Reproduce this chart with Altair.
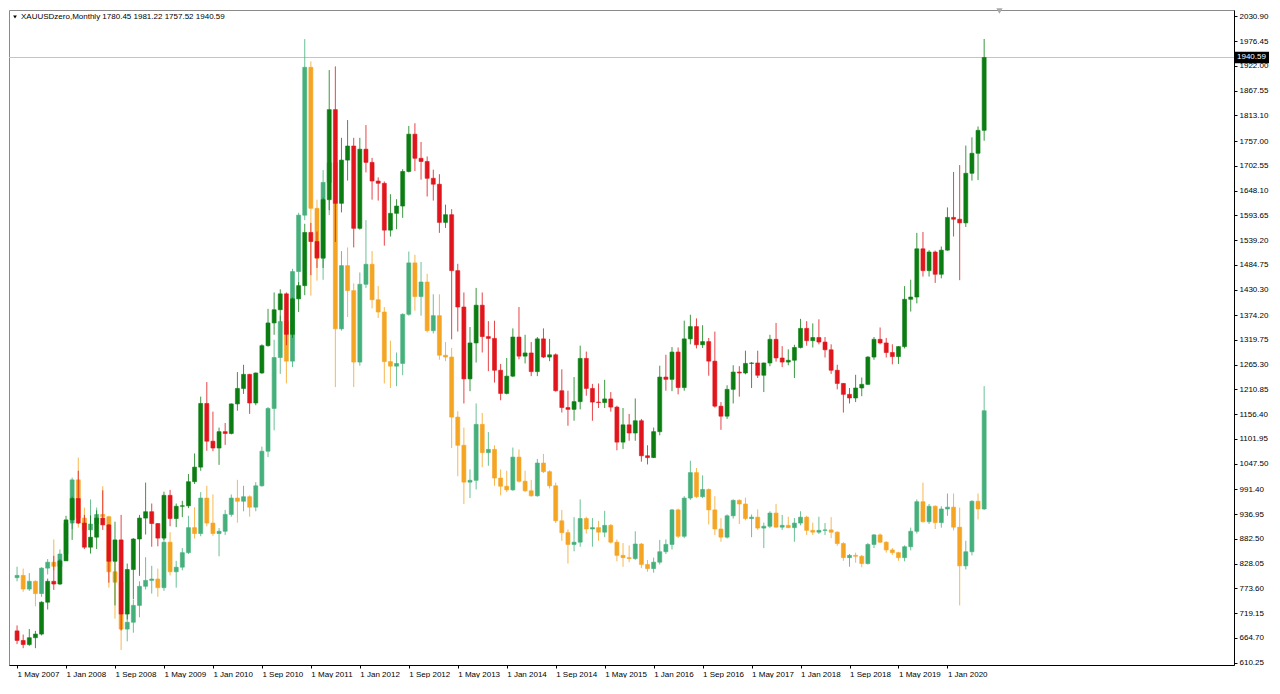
import json
import altair as alt
import pandas as pd

# ---------------- data (price-axis units) ----------------
# monthly candles, first candle = May 2007 (index 0), last = Jul 2020 (index 158)
gold_open = [
    680, 659, 650, 665, 673, 743, 789, 783,
    834, 924, 971, 917, 864, 886, 928, 913, 833, 880, 717, 815,
    882, 928, 942, 916, 884, 978, 927, 954, 955, 1008, 1040, 1180,
    1097, 1082, 1118, 1114, 1179, 1213, 1244, 1181, 1247, 1307, 1357, 1386,
    1421, 1332, 1410, 1439, 1556, 1536, 1500, 1628, 1826, 1620, 1715, 1746,
    1565, 1739, 1710, 1669, 1664, 1561, 1598, 1614, 1690, 1772, 1719, 1712,
    1675, 1662, 1578, 1595, 1472, 1392, 1234, 1313, 1396, 1327, 1323, 1253,
    1202, 1240, 1326, 1284, 1291, 1250, 1322, 1282, 1287, 1208, 1171, 1167,
    1184, 1279, 1213, 1183, 1182, 1190, 1172, 1095, 1133, 1115, 1142, 1065,
    1061, 1118, 1238, 1233, 1293, 1215, 1322, 1349, 1309, 1316, 1273, 1174,
    1152, 1211, 1249, 1247, 1268, 1269, 1242, 1269, 1321, 1280, 1271, 1275,
    1303, 1345, 1318, 1325, 1315, 1298, 1253, 1224, 1200, 1192, 1214, 1222,
    1282, 1321, 1313, 1292, 1283, 1305, 1409, 1414, 1520, 1472, 1513, 1464,
    1517, 1589, 1585, 1577, 1686, 1730, 1780.45,
]
gold_high = [
    692, 672, 684, 680, 745, 795, 845, 838,
    933, 975, 1032, 935, 934, 945, 989, 915, 920, 935, 828, 884,
    935, 1006, 960, 917, 986, 990, 960, 966, 1025, 1070, 1195, 1227,
    1162, 1127, 1137, 1180, 1249, 1265, 1245, 1248, 1310, 1388, 1424, 1431,
    1424, 1413, 1447, 1575, 1577, 1558, 1632, 1913, 1921, 1764, 1803, 1764,
    1764, 1792, 1720, 1677, 1668, 1640, 1629, 1695, 1790, 1796, 1755, 1723,
    1694, 1684, 1617, 1607, 1487, 1424, 1348, 1434, 1424, 1361, 1362, 1267,
    1280, 1345, 1392, 1331, 1315, 1326, 1345, 1322, 1290, 1255, 1208, 1238,
    1307, 1294, 1223, 1224, 1232, 1205, 1175, 1170, 1157, 1191, 1146, 1088,
    1127, 1263, 1287, 1304, 1303, 1362, 1375, 1367, 1352, 1324, 1338, 1183,
    1220, 1264, 1262, 1296, 1271, 1296, 1270, 1331, 1357, 1306, 1299, 1309,
    1366, 1361, 1356, 1365, 1326, 1310, 1265, 1225, 1214, 1243, 1237, 1284,
    1326, 1347, 1324, 1310, 1306, 1438, 1452, 1555, 1557, 1517, 1516, 1525,
    1611, 1689, 1704, 1747, 1765, 1789, 1981.22,
]
gold_low = [
    651, 642, 647, 642, 670, 727, 770, 781,
    834, 880, 915, 860, 850, 860, 902, 786, 736, 681, 705, 750,
    801, 892, 865, 866, 880, 910, 908, 930, 950, 1003, 1032, 1076,
    1075, 1045, 1089, 1112, 1164, 1201, 1157, 1176, 1245, 1305, 1331, 1360,
    1308, 1324, 1381, 1418, 1462, 1478, 1478, 1605, 1535, 1600, 1670, 1523,
    1562, 1688, 1628, 1626, 1527, 1547, 1563, 1588, 1688, 1691, 1672, 1635,
    1626, 1555, 1566, 1321, 1338, 1180, 1207, 1270, 1292, 1251, 1226, 1187,
    1200, 1238, 1277, 1268, 1240, 1240, 1280, 1273, 1206, 1160, 1131, 1142,
    1167, 1197, 1142, 1170, 1170, 1162, 1077, 1080, 1098, 1098, 1052, 1046,
    1060, 1110, 1208, 1207, 1200, 1208, 1310, 1301, 1302, 1241, 1171, 1122,
    1146, 1180, 1195, 1244, 1214, 1236, 1205, 1262, 1272, 1260, 1264, 1236,
    1301, 1307, 1303, 1310, 1281, 1245, 1211, 1160, 1180, 1183, 1196, 1221,
    1276, 1310, 1281, 1266, 1267, 1301, 1382, 1400, 1459, 1459, 1445, 1455,
    1516, 1547, 1451, 1568, 1670, 1671, 1757.52,
]
gold_close = [
    659, 650, 665, 673, 743, 789, 783, 834,
    924, 971, 917, 864, 886, 928, 913, 833, 880, 717, 815, 882,
    928, 942, 916, 884, 978, 927, 954, 955, 1008, 1040, 1180, 1097,
    1082, 1118, 1114, 1179, 1213, 1244, 1181, 1247, 1307, 1357, 1386, 1421,
    1332, 1410, 1439, 1556, 1536, 1500, 1628, 1826, 1620, 1715, 1746, 1565,
    1739, 1710, 1669, 1664, 1561, 1598, 1614, 1690, 1772, 1719, 1712, 1675,
    1662, 1578, 1595, 1472, 1392, 1234, 1313, 1396, 1327, 1323, 1253, 1202,
    1240, 1326, 1284, 1291, 1250, 1322, 1282, 1287, 1208, 1171, 1167, 1184,
    1279, 1213, 1183, 1182, 1190, 1172, 1095, 1133, 1115, 1142, 1065, 1061,
    1118, 1238, 1233, 1293, 1215, 1322, 1349, 1309, 1316, 1273, 1174, 1152,
    1211, 1249, 1247, 1268, 1269, 1242, 1269, 1321, 1280, 1271, 1275, 1303,
    1345, 1318, 1325, 1315, 1298, 1253, 1224, 1200, 1192, 1214, 1222, 1282,
    1321, 1313, 1292, 1283, 1305, 1409, 1414, 1520, 1472, 1513, 1464, 1517,
    1589, 1585, 1577, 1686, 1730, 1780.45, 1940.59,
]

# overlay series (orange / teal candles), in the same price-axis units
overlay_open = [
    797, 802, 772, 789, 762, 818, 831, 822,
    849, 917, 1012, 928, 902, 915, 936, 931, 810, 787, 684, 699,
    736, 778, 791, 794, 775, 875, 810, 820, 852, 907, 894, 972,
    917, 894, 899, 936, 972, 965, 975, 952, 999, 1075, 1169, 1281,
    1360, 1273, 1470, 1594, 1919, 1609, 1499, 1666, 1709, 1344, 1483, 1428,
    1271, 1442, 1486, 1408, 1381, 1272, 1262, 1268, 1376, 1489, 1415, 1447,
    1340, 1373, 1286, 1282, 1150, 1088, 1007, 1011, 1134, 1072, 1079, 1016,
    998, 990, 1062, 1009, 988, 977, 1049, 1030, 999, 922, 896, 870,
    875, 927, 904, 907, 897, 912, 875, 846, 841, 839, 871, 826,
    817, 831, 854, 870, 946, 888, 972, 1028, 975, 991, 946, 904,
    886, 933, 967, 959, 927, 930, 906, 910, 939, 908, 912, 907,
    917, 930, 901, 897, 901, 902, 897, 872, 841, 846, 844, 828,
    870, 891, 875, 858, 852, 841, 865, 899, 964, 920, 954, 918,
    948, 952, 908, 823, 854, 965, 948,
]
overlay_high = [
    821, 817, 807, 791, 820, 838, 881, 859,
    923, 1017, 1061, 951, 969, 951, 998, 933, 834, 792, 726, 749,
    789, 842, 823, 817, 894, 897, 834, 862, 933, 952, 985, 999,
    980, 906, 946, 980, 1012, 999, 978, 1007, 1085, 1172, 1320, 1373,
    1373, 1476, 1599, 1981, 1932, 1628, 1693, 1801, 1761, 1515, 1523, 1444,
    1468, 1583, 1515, 1438, 1392, 1318, 1292, 1378, 1514, 1507, 1491, 1465,
    1420, 1420, 1315, 1302, 1163, 1127, 1035, 1180, 1159, 1117, 1088, 1035,
    1032, 1083, 1079, 1032, 1012, 1058, 1069, 1033, 1006, 946, 903, 930,
    969, 931, 928, 922, 944, 915, 881, 873, 868, 899, 873, 836,
    841, 880, 881, 948, 949, 976, 1054, 1038, 1022, 993, 976, 928,
    936, 969, 969, 973, 936, 947, 918, 943, 959, 935, 931, 928,
    943, 933, 918, 931, 917, 930, 899, 875, 849, 852, 847, 873,
    893, 894, 877, 862, 854, 868, 907, 969, 1006, 959, 956, 954,
    982, 982, 951, 878, 967, 982, 1218,
]
overlay_low = [
    789, 766, 768, 734, 755, 804, 813, 817,
    845, 904, 907, 894, 889, 891, 920, 775, 707, 638, 657, 676,
    710, 771, 762, 755, 768, 802, 775, 813, 849, 883, 888, 910,
    889, 844, 891, 931, 918, 943, 931, 943, 997, 1062, 1121, 1245,
    1224, 1260, 1438, 1583, 1417, 1450, 1452, 1594, 1216, 1340, 1370, 1216,
    1263, 1434, 1389, 1368, 1224, 1214, 1218, 1242, 1373, 1384, 1373, 1336,
    1334, 1276, 1273, 1082, 1020, 959, 972, 991, 1040, 1043, 999, 978,
    985, 988, 1006, 985, 975, 975, 1027, 993, 917, 878, 828, 855,
    865, 894, 865, 878, 886, 872, 833, 821, 831, 836, 818, 810,
    808, 826, 849, 859, 884, 884, 968, 972, 972, 914, 891, 876,
    883, 927, 915, 923, 886, 902, 862, 906, 907, 902, 906, 876,
    912, 891, 891, 893, 891, 884, 867, 834, 821, 830, 820, 826,
    862, 873, 852, 847, 834, 833, 857, 894, 918, 915, 904, 907,
    933, 901, 736, 815, 846, 925, 946,
]
overlay_close = [
    802, 772, 789, 762, 818, 831, 822, 849,
    917, 1012, 928, 902, 915, 936, 931, 810, 787, 684, 699, 736,
    778, 791, 794, 775, 875, 810, 820, 852, 907, 894, 972, 917,
    894, 899, 936, 972, 965, 975, 952, 999, 1075, 1169, 1281, 1360,
    1273, 1470, 1594, 1919, 1609, 1499, 1666, 1709, 1344, 1483, 1428, 1271,
    1442, 1486, 1408, 1381, 1272, 1262, 1268, 1376, 1489, 1415, 1447, 1340,
    1373, 1286, 1282, 1150, 1088, 1007, 1011, 1134, 1072, 1079, 1016, 998,
    990, 1062, 1009, 988, 977, 1049, 1030, 999, 922, 896, 870, 875,
    927, 904, 907, 897, 912, 875, 846, 841, 839, 871, 826, 817,
    831, 854, 870, 946, 888, 972, 1028, 975, 991, 946, 904, 886,
    933, 967, 959, 927, 930, 906, 910, 939, 908, 912, 907, 917,
    930, 901, 897, 901, 902, 897, 872, 841, 846, 844, 828, 870,
    891, 875, 858, 852, 841, 865, 899, 964, 920, 954, 918, 948,
    952, 908, 823, 854, 965, 948, 1164,
]

tick_positions = [0, 8, 16, 24, 32, 40, 48, 56, 64, 72, 80, 88, 96, 104, 112, 120, 128, 136, 144, 152]
tick_labels = [
    "1 May 2007", "1 Jan 2008", "1 Sep 2008", "1 May 2009", "1 Jan 2010", "1 Sep 2010",
    "1 May 2011", "1 Jan 2012", "1 Sep 2012", "1 May 2013", "1 Jan 2014", "1 Sep 2014",
    "1 May 2015", "1 Jan 2016", "1 Sep 2016", "1 May 2017", "1 Jan 2018", "1 Sep 2018",
    "1 May 2019", "1 Jan 2020",
]
price_ticks = [
    610.25, 664.70, 719.15, 773.60, 828.05, 882.50, 936.95, 991.40, 1047.50,
    1101.95, 1156.40, 1210.85, 1265.30, 1319.75, 1374.20, 1430.30, 1484.75,
    1539.20, 1593.65, 1648.10, 1702.55, 1757.00, 1813.10, 1867.55, 1922.00,
    1976.45, 2030.90,
]
symbol_name = "XAUUSDzero,Monthly"

for arr in (gold_open, gold_high, gold_low, gold_close,
            overlay_open, overlay_high, overlay_low, overlay_close):
    assert len(arr) == len(gold_close), len(arr)

# ---------------- build table ----------------
rows = []
for name, o, h, l, c in (
    ("overlay", overlay_open, overlay_high, overlay_low, overlay_close),
    ("gold", gold_open, gold_high, gold_low, gold_close),
):
    for i in range(len(c)):
        rows.append({
            "i": i, "series": name,
            "open": o[i], "high": h[i], "low": l[i], "close": c[i],
            "kind": name + ("_up" if c[i] >= o[i] else "_down"),
        })
df = pd.DataFrame(rows)

W, H = 1225, 655
FONT = "Liberation Sans"

kind_scale = alt.Scale(
    domain=["gold_up", "gold_down", "overlay_up", "overlay_down"],
    range=["#0b7d12", "#e0161c", "#46b07c", "#f5a524"],
)
x_scale = alt.Scale(domain=[-0.5, 198.0], nice=False, zero=False)
y_scale = alt.Scale(domain=[605, 2045], nice=False, zero=False)

label_expr = json.dumps(tick_labels) + "[indexof(" + json.dumps(tick_positions) + ", datum.value)]"
x_axis = alt.Axis(values=tick_positions, labelExpr=label_expr, labelAlign="left",
                  labelFlush=False, labelOverlap=False, labelPadding=2, tickSize=3,
                  grid=False, title=None)
y_axis = alt.Axis(orient="right", values=price_ticks, format=".2f", labelOverlap=False,
                  labelPadding=2, tickSize=3, grid=False, title=None)


def X():
    return alt.X("i:Q", scale=x_scale, axis=x_axis)


def Yf(field):
    return alt.Y(field + ":Q", scale=y_scale, axis=y_axis)


base = alt.Chart(df)


def wicks(series):
    return base.transform_filter(alt.datum.series == series).mark_rule(
        strokeWidth=1, opacity=0.8
    ).encode(
        x=X(), y=Yf("low"), y2="high:Q",
        color=alt.Color("kind:N", scale=kind_scale, legend=None),
    )


def bodies(series):
    return base.transform_filter(alt.datum.series == series).mark_bar(
        size=4, strokeWidth=0.6
    ).encode(
        x=X(), y=Yf("open"), y2="close:Q",
        fill=alt.Fill("kind:N", scale=kind_scale, legend=None),
        stroke=alt.Stroke("kind:N", scale=kind_scale, legend=None),
    )


last = gold_close[-1]
bid_df = pd.DataFrame({"p": [last], "top": [last + 12.5], "bot": [last - 12.5],
                       "txt": [f"{last:.2f}"]})
bid_line = alt.Chart(bid_df).mark_rule(color="#c4c4c4", strokeWidth=1).encode(y=Yf("p"))
bid_box = alt.Chart(bid_df).mark_rect(color="#000000").encode(
    y=Yf("top"), y2="bot:Q", x=alt.value(W + 1), x2=alt.value(W + 35)
)
bid_txt = alt.Chart(bid_df).mark_text(
    color="white", fontSize=8, font=FONT, align="left", baseline="middle"
).encode(y=Yf("p"), x=alt.value(W + 3), text="txt:N")

header = f"{symbol_name}  {gold_open[-1]:.2f} {gold_high[-1]:.2f} {gold_low[-1]:.2f} {gold_close[-1]:.2f}"
head_df = pd.DataFrame({"t": [header]})
head_txt = alt.Chart(head_df).mark_text(
    fontSize=8, font=FONT, align="left", baseline="middle", color="#000000"
).encode(x=alt.value(12), y=alt.value(7), text="t:N")
head_tri = alt.Chart(head_df).mark_point(
    shape="triangle-down", filled=True, size=14, color="#000000", opacity=1
).encode(x=alt.value(6), y=alt.value(7))

shift_marker = alt.Chart(pd.DataFrame({"s": [160.5]})).mark_point(
    shape="triangle-down", filled=True, size=40, color="#a8a8a8", opacity=1
).encode(x=alt.X("s:Q", scale=x_scale, axis=x_axis), y=alt.value(1))

chart = alt.layer(
    bid_line,
    wicks("overlay"), bodies("overlay"),
    wicks("gold"), bodies("gold"),
    bid_box, bid_txt, head_tri, head_txt, shift_marker,
).properties(
    width=W, height=H, padding={"left": 0, "top": 0, "right": 2, "bottom": 0},
    background="white",
).configure_axis(
    labelFont=FONT, labelFontSize=8, labelColor="#000000", tickColor="#000000",
    domainColor="#000000", domainWidth=1,
).configure_view(stroke="#8a8a8a", strokeWidth=1)

chart.save("out.html", embed_options={"renderer": "svg", "actions": False})
